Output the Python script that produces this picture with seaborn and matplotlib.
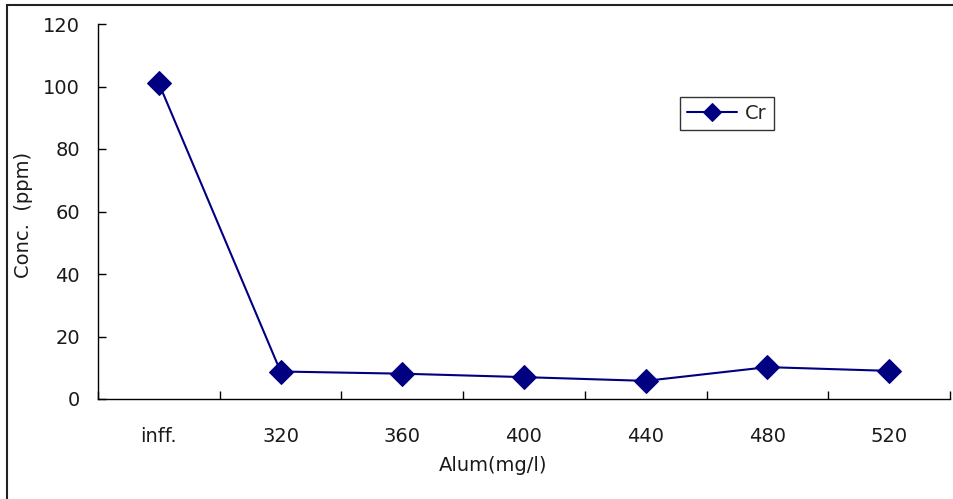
import matplotlib
matplotlib.use("Agg")
import matplotlib.pyplot as plt
import seaborn as sns
import pandas as pd
import numpy as np
from matplotlib.patches import Rectangle

categories = ["inff.", "320", "360", "400", "440", "480", "520"]
cr_values = [101.0, 8.8, 8.1, 7.0, 5.8, 10.2, 9.0]
y_ticks = [0, 20, 40, 60, 80, 100, 120]

sns.set_theme(style="white")
plt.rcParams['font.family'] = ['DejaVu Sans']

df = pd.DataFrame({"pos": np.arange(len(categories)), "cat": categories, "Cr": cr_values})

fig = plt.figure(figsize=(9.54, 4.99), dpi=100)
ax = fig.add_axes([98/954, 100/499, 852/954, 375/499])

sns.lineplot(data=df, x="pos", y="Cr", ax=ax, color="#000080", linewidth=1.5,
             marker="D", markersize=12, markeredgecolor="#000080", label="Cr")

ax.set_xlim(-0.5, len(categories) - 0.5)
ax.set_ylim(0, 120)
ax.set_yticks(y_ticks)
ax.set_xticks(df["pos"])
ax.set_xticklabels(categories)
ax.set_xticks(np.arange(-0.5, len(categories), 1.0), minor=True)

for s in ["top", "right"]:
    ax.spines[s].set_visible(False)
for s in ["left", "bottom"]:
    ax.spines[s].set_color("black")
    ax.spines[s].set_linewidth(1.0)

txt = "#1a1a1a"
fs = 14
ax.tick_params(axis="x", which="major", length=0, pad=20, labelsize=fs, labelcolor=txt)
ax.tick_params(axis="x", which="minor", direction="in", length=6, width=1, color="black", bottom=True)
ax.tick_params(axis="y", which="major", direction="in", length=6, width=1, color="black", left=True,
               pad=13, labelsize=fs, labelcolor=txt)

ax.set_xlabel("Alum(mg/l)", fontsize=fs, color=txt)
ax.set_ylabel("Conc.  (ppm)", fontsize=fs, color=txt)
ax.xaxis.set_label_coords(0.464, -0.152)
ax.yaxis.set_label_coords(-0.076, 0.49)
ax.grid(False)

leg = ax.legend(loc="upper left", bbox_to_anchor=(0.683, 0.805), frameon=True, fancybox=False,
                edgecolor="black", fontsize=fs, handlelength=2.6, borderpad=0.35,
                handletextpad=0.4, borderaxespad=0, markerscale=0.8)
leg.get_frame().set_linewidth(1.0)

fig.patches.append(Rectangle((7/954, -0.1), 1.2, (499 - 5)/499 + 0.1, transform=fig.transFigure,
                             fill=False, edgecolor="#222222", linewidth=1.5))

fig.savefig("out.png", dpi=100)
